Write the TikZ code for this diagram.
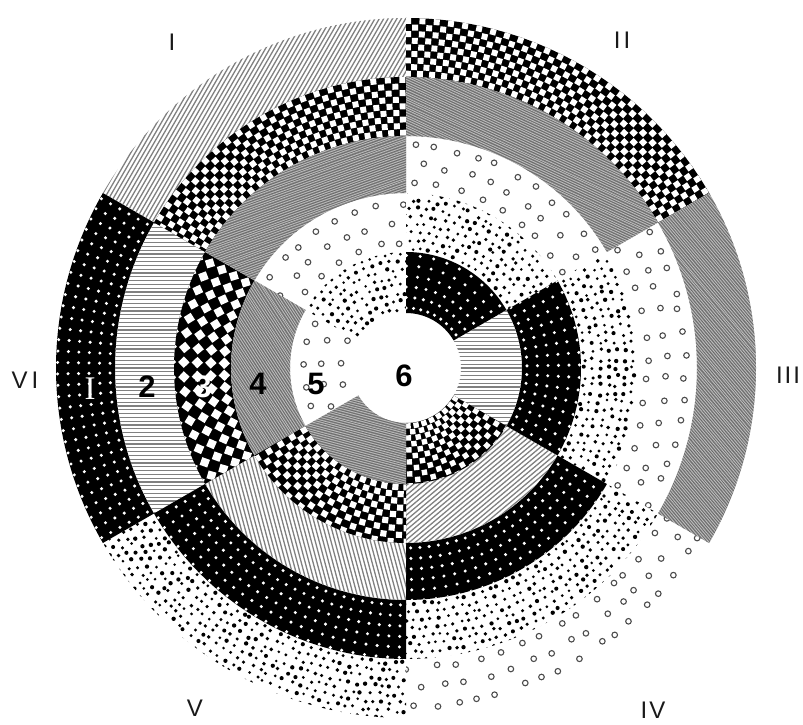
\documentclass[tikz,border=0pt]{standalone}
\usepackage{fontspec}
\setmainfont{Liberation Sans}
\newfontfamily\seriffont{Liberation Serif}
\tikzset{
  numlabel/.style={font=\fontsize{31}{31}\selectfont\bfseries, inner sep=0pt, text=black},
  romlabel/.style={font=\fontsize{24}{24}\selectfont, inner sep=0pt, text=black!90},
}
% ---------- patterns (used inside a clipped wedge; origin = centre) ----------
\newcommand\patblack{%
  \fill[black] (0,0) circle[radius=360pt];
  \pgfmathtruncatemacro\nr{(\ro-\ri)/10.5}%
  \pgfmathsetmacro\dt{10.5/\rmid*57.2958}%
  \pgfmathtruncatemacro\nt{60/\dt+1}%
  \foreach \i in {0,...,\nr}{%
    \pgfmathsetmacro\rr{\ri+5+10.5*\i}%
    \fill[white] \foreach \j in {0,...,\nt}{(\angA+\dt*\j+\dt*0.5:\rr pt) circle[radius=1.7pt]};
  }%
}
\newcommand\patlines{%
  \pgfmathsetmacro\ang{\lineang[\k-1]}%
  \pgfmathtruncatemacro\nl{\Lh/3.8+1}%
  \begin{scope}[shift={(\amid:\rmid pt)}, rotate=\ang]
    \draw[black!50, line width=1.3pt] \foreach \i in {-\nl,...,\nl}{(-\Lh pt,\i*3.8pt) -- (\Lh pt,\i*3.8pt)};
  \end{scope}%
}
\newcommand\patgray{%
  \fill[black!45] (0,0) circle[radius=360pt];
  \pgfmathsetmacro\ang{\grayang[\k-1]}%
  \pgfmathtruncatemacro\nl{\Lh/2.3+1}%
  \begin{scope}[shift={(\amid:\rmid pt)}, rotate=\ang]
    \draw[black!62, line width=0.45pt] \foreach \i in {-\nl,...,\nl}{(-\Lh pt,\i*2.3pt) -- (\Lh pt,\i*2.3pt)};
    \draw[black!22, line width=0.5pt] \foreach \i in {-\nl,...,\nl}{(-\Lh pt,\i*2.3pt+1.15pt+rand*0.5pt) -- (\Lh pt,\i*2.3pt+1.15pt+rand*0.5pt)};
  \end{scope}%
}
\newcommand\patcircles{%
  \pgfmathtruncatemacro\nr{(\ro-\ri)/19}%
  \foreach \i in {0,...,\nr}{%
    \pgfmathsetmacro\rr{\ri+9+19*\i}%
    \pgfmathsetmacro\dt{22/\rr*57.2958}%
    \pgfmathtruncatemacro\nt{60/\dt+1}%
    \pgfmathsetmacro\off{mod(\i,2)*0.5+0.25}%
    \draw[black!70, line width=1.1pt] \foreach \j in {0,...,\nt}{(\angA+\dt*\j+\dt*\off+rand*1.2:{(\rr+rand*2)*1pt}) circle[radius=2.8pt]};
  }%
}
\newcommand\patstipple{%
  \pgfmathtruncatemacro\nr{(\ro-\ri)/8}%
  \foreach \i in {0,...,\nr}{%
    \pgfmathsetmacro\rr{\ri+4+8*\i}%
    \pgfmathsetmacro\dt{8.5/\rr*57.2958}%
    \pgfmathtruncatemacro\nt{60/\dt+1}%
    \pgfmathsetmacro\off{mod(\i,2)*0.5}%
    \fill[black] \foreach \j in {0,...,\nt}{(\angA+\dt*\j+\dt*\off+\dt*0.25*rand:{(\rr+1.6*rand)*1pt}) circle[radius={(1.8+0.4*rand)*1pt}]};
  }%
}
\newcommand\patchecker{%
  \fill[black] (0,0) circle[radius=360pt];
  \pgfmathsetmacro\cellc{\checkc[\k-1]}%
  \pgfmathtruncatemacro\ckm{\checkm[\k-1]}%
  \pgfmathtruncatemacro\nr{(\ro-\ri)/\cellc}%
  \ifnum\ckm=0 \def\stepm{2}\def\rotadd{0}\def\hsf{0.45}\else\def\stepm{1}\def\rotadd{45}\def\hsf{0.3}\fi
  \pgfmathsetmacro\hs{\hsf*\cellc}%
  \pgfmathsetmacro\dt{\cellc/\rmid*57.2958}%
  \pgfmathtruncatemacro\nt{60/(\dt*\stepm)+1}%
  \foreach \i in {0,...,\nr}{%
    \pgfmathsetmacro\rr{\ri+\cellc*(\i+0.5)}%
    \pgfmathsetmacro\off{(\stepm-1)*mod(\i,2)}%
    \foreach \j in {0,...,\nt}{%
      \pgfmathsetmacro\tang{\angA+\dt*(\stepm*\j+\off+0.5)}%
      \fill[white, shift={(\tang:\rr pt)}, rotate=\tang+\rotadd] (-\hs pt,-\hs pt) rectangle (\hs pt,\hs pt);
    }%
  }%
}
\begin{document}
\begin{tikzpicture}[x=1pt,y=1pt]
\useasboundingbox (0,0) rectangle (803,724);
\pgfmathsetseed{12}
\def\lineang{{60,0,105,40,0}}
\def\grayang{{-50,-25,20,-57,-15}}
\def\checkc{{6.6,6.6,13.5,6.8,6}}
\def\checkm{{0,0,1,0,0}}
\begin{scope}[shift={(406,356)}]
\foreach \k/\ri/\ro in {1/291/350,2/232/291,3/175/232,4/116/175,5/55/116}{
  \foreach \s in {0,...,5}{
    \pgfmathtruncatemacro\p{mod(\s+\k-1,6)}
    \pgfmathsetmacro\angA{150-60*\s}
    \pgfmathsetmacro\angB{210-60*\s}
    \pgfmathsetmacro\amid{180-60*\s}
    \pgfmathsetmacro\rmid{(\ri+\ro)/2}
    \pgfmathsetmacro\Lh{0.55*\ro+6}
    \begin{scope}
      \clip (\angA:\ri pt) arc[start angle=\angA,end angle=\angB,radius=\ri pt] -- (\angB:\ro pt) arc[start angle=\angB,end angle=\angA,radius=\ro pt] -- cycle;
      \ifcase\p\relax \patblack \or \patlines \or \patchecker \or \patgray \or \patcircles \or \patstipple \fi
    \end{scope}
  }
}
\end{scope}
% ring numbers
\node[font=\seriffont\fontsize{33}{33}\selectfont, text=white, inner sep=0pt] (n1) at (90,335) {I};
\node[numlabel] (n2) at (147,337) {2};
\node[numlabel, text=white] (n3) at (203,337) {3};
\node[numlabel] (n4) at (258,340) {4};
\node[numlabel] (n5) at (316,340) {5};
\node[numlabel] (n6) at (404,348) {6};
% sector numerals
\node[romlabel] (rI) at (172,682) {I};
\node[romlabel] (rII) at (622,684) {I\kern3pt I};
\node[romlabel] (rIII) at (788,349) {I\kern2pt I\kern2pt I};
\node[romlabel] (rIV) at (653,14) {I\kern2pt V};
\node[romlabel] (rV) at (195,16) {V};
\node[romlabel] (rVI) at (25,344) {V\kern4pt I};
\end{tikzpicture}
\end{document}
